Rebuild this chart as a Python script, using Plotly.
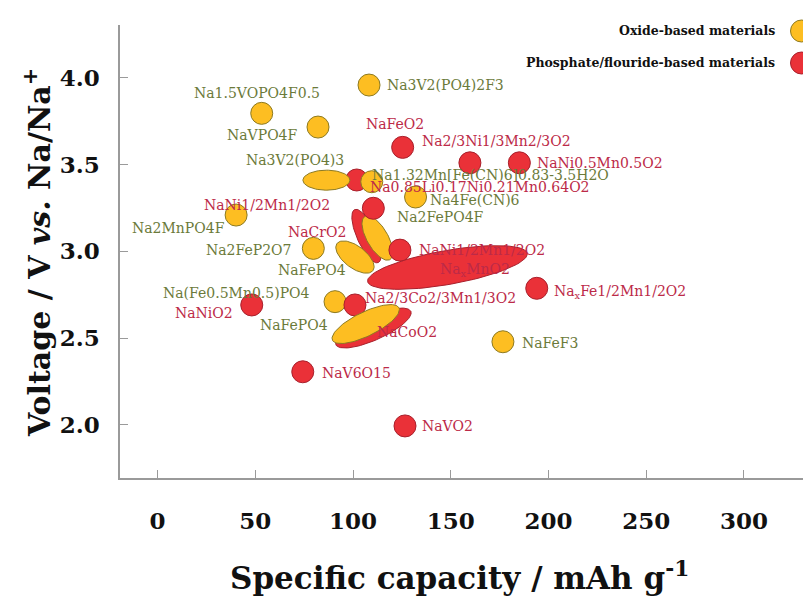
import numpy as np
import plotly.graph_objects as go

# ---------------- data ----------------
oxide_names = [
    "Na1.5VOPO4F0.5", "NaVPO4F", "Na3V2(PO4)2F3", "Na3V2(PO4)3",
    "Na1.32Mn[Fe(CN)6]0.83-3.5H2O", "Na4Fe(CN)6", "Na2FePO4F", "NaFePO4",
    "Na2FeP2O7", "Na2MnPO4F", "Na(Fe0.5Mn0.5)PO4", "NaFePO4", "NaFeF3",
]
oxide_capacity = [53.3, 82.1, 108.2, 86.4, 109.6, 132.0, 112.5, 101.0, 79.7, 40.2, 90.8, 106.5, 176.7]
oxide_voltage = [3.795, 3.716, 3.958, 3.41, 3.401, 3.313, 3.077, 2.967, 3.017, 3.209, 2.710, 2.581, 2.479]

phos_names = [
    "NaFeO2", "Na2/3Ni1/3Mn2/3O2", "NaNi0.5Mn0.5O2", "Na0.85Li0.17Ni0.21Mn0.64O2",
    "NaNi1/2Mn1/2O2", "NaCrO2", "NaNi1/2Mn1/2O2", "Na<sub>x</sub>MnO2",
    "Na<sub>x</sub>Fe1/2Mn1/2O2", "Na2/3Co2/3Mn1/3O2", "NaCoO2", "NaNiO2", "NaV6O15", "NaVO2",
]
phos_capacity = [125.4, 159.8, 185.1, 101.9, 110.4, 106.9, 124.0, 148.3, 194.0, 101.0, 110.4, 48.2, 74.3, 126.6]
phos_voltage = [3.599, 3.510, 3.510, 3.411, 3.248, 3.088, 3.007, 2.907, 2.787, 2.691, 2.558, 2.691, 2.306, 1.994]

legend_names = ["Oxide-based materials", "Phosphate/flouride-based materials"]

# ---------------- styles ----------------
OFF = 8  # page body margin
W, H = 811 - OFF, 599 - OFF
ML, MR, MT = 120 - OFF, 0, 25 - OFF
MB = H - (478 - OFF)
XR = [-19.2, 334.3]
YR = [1.694, 4.304]
pw, ph = W - ML - MR, H - MT - MB
sx = pw / (XR[1] - XR[0])
sy = ph / (YR[1] - YR[0])


def paper_x(page_px):
    return (page_px - OFF - ML) / pw


def paper_y(page_py):
    return (H - MB - (page_py - OFF)) / ph


YEL, YEL_LINE, YEL_TXT = "#FDBE22", "#8C7A22", "#6B7A3A"
RED, RED_LINE, RED_TXT = "#EA3138", "#A8202C", "#BC2A48"
FONT = "DejaVu Serif"

# ellipse shapes in pixels: (a, b, angle) or None for a circle
oxide_shape = [None, None, None, (23.5, 10, 0), None, None, (25, 10.5, -60), (22.5, 11, -37),
               None, None, None, (37, 12, 26), None]
phos_shape = [None, None, None, None, None, (29, 9.5, -66), None, (81, 17, 10),
              None, None, (41, 12, 24), None, None, None]

# label placement: (xanchor, xshift px, yshift px)
oxide_lab = [("center", -5, 20), ("right", -18, -8), ("left", 16, 0), ("center", -31, 20),
             ("left", -2, 7), ("left", 12, -3), ("left", 17.5, 21), ("right", -7, -13),
             ("right", -20, -2), ("right", -9, -13), ("right", -23, 9), ("right", -36, -1),
             ("left", 17, -1)]
phos_lab = [("center", -8, 23), ("center", 26.5, 22), ("left", 16, 0), ("left", 11, -7),
            ("right", -41, 3), ("right", -18.5, 4), ("left", 17, 0), ("center", 27.5, -2.5),
            ("left", 15, -4), ("left", 8, 7), ("left", 2, -4), ("right", -17, -8),
            ("left", 17, -1), ("left", 15, 0)]

order = [('o', 0), ('o', 1), ('o', 2), ('o', 5), ('o', 8), ('o', 9), ('o', 10), ('o', 12),
         ('p', 0), ('p', 1), ('p', 2), ('p', 11), ('p', 12), ('p', 13), ('p', 8),
         ('p', 3), ('o', 3), ('o', 4),
         ('p', 5), ('o', 6), ('p', 4), ('o', 7),
         ('p', 9), ('p', 10), ('o', 11),
         ('p', 7), ('p', 6)]

fig = go.Figure()

t = np.linspace(0, 2 * np.pi, 90)
for series, i in order:
    if series == 'o':
        x, y, shp = oxide_capacity[i], oxide_voltage[i], oxide_shape[i]
        fc, lc = YEL, YEL_LINE
    else:
        x, y, shp = phos_capacity[i], phos_voltage[i], phos_shape[i]
        fc, lc = RED, RED_LINE
    if shp is None:
        fig.add_trace(go.Scatter(x=[x], y=[y], mode="markers", showlegend=False, hoverinfo="skip",
                                 marker=dict(size=22, color=fc, line=dict(color=lc, width=1))))
    else:
        a, b, ang = shp
        th = np.deg2rad(ang)
        px = a * np.cos(t) * np.cos(th) - b * np.sin(t) * np.sin(th)
        py = a * np.cos(t) * np.sin(th) + b * np.sin(t) * np.cos(th)
        fig.add_trace(go.Scatter(x=x + px / sx, y=y + py / sy, mode="lines", fill="toself",
                                 fillcolor=fc, line=dict(color=lc, width=1),
                                 showlegend=False, hoverinfo="skip"))

annotations = []
for names, xs, ys, labs, col in [(oxide_names, oxide_capacity, oxide_voltage, oxide_lab, YEL_TXT),
                                  (phos_names, phos_capacity, phos_voltage, phos_lab, RED_TXT)]:
    for n, x, y, (xa, dx, dy) in zip(names, xs, ys, labs):
        annotations.append(dict(x=x, y=y, xref="x", yref="y", text=n, showarrow=False,
                                xanchor=xa, yanchor="middle", xshift=dx, yshift=dy,
                                font=dict(family=FONT, size=14, color=col)))

# legend (custom, text left of circle)
for k, (nm, fc, lc) in enumerate(zip(legend_names, [YEL, RED], [YEL_LINE, RED_LINE])):
    py = [31, 63][k]
    annotations.append(dict(x=paper_x(777), y=paper_y(py), xref="paper", yref="paper", text=nm,
                            showarrow=False, xanchor="right", yanchor="middle",
                            font=dict(family=FONT, size=12.5, color="#111", weight="bold")))
    fig.add_shape(type="circle", xref="paper", yref="paper", xsizemode="pixel", ysizemode="pixel",
                  xanchor=paper_x(801.5), yanchor=paper_y(py), x0=-11, x1=11, y0=-11, y1=11,
                  fillcolor=fc, line=dict(color=lc, width=1))

# axis titles
annotations.append(dict(x=paper_x(459), y=paper_y(576), xref="paper", yref="paper",
                        text="Specific capacity / mAh g<sup>-1</sup>", showarrow=False,
                        xanchor="center", yanchor="middle",
                        font=dict(family=FONT, size=31, color="#111", weight="bold")))
annotations.append(dict(x=paper_x(37), y=paper_y(253), xref="paper", yref="paper",
                        text="Voltage / V <i>vs.</i> Na/Na<sup>+</sup>", showarrow=False,
                        textangle=-90, xanchor="center", yanchor="middle",
                        font=dict(family=FONT, size=30, color="#111", weight="bold")))

fig.update_layout(
    width=W, height=H, margin=dict(l=ML, r=MR, t=MT, b=MB),
    plot_bgcolor="white", paper_bgcolor="white", showlegend=False,
    annotations=annotations,
    xaxis=dict(range=XR, tickvals=[0, 50, 100, 150, 200, 250, 300], showgrid=False, zeroline=False,
               showline=True, linecolor="#9a9a9a", linewidth=1.5, ticks="inside", ticklen=8,
               tickcolor="#9a9a9a", ticklabelstandoff=22,
               tickfont=dict(family=FONT, size=23, color="#111", weight="bold")),
    yaxis=dict(range=YR, tickvals=[2.0, 2.5, 3.0, 3.5, 4.0], tickformat=".1f", showgrid=False,
               zeroline=False, showline=True, linecolor="#9a9a9a", linewidth=1.5, ticks="inside",
               ticklen=8, tickcolor="#9a9a9a", ticklabelstandoff=14,
               tickfont=dict(family=FONT, size=23, color="#111", weight="bold")),
)

fig.write_html("out.html")
